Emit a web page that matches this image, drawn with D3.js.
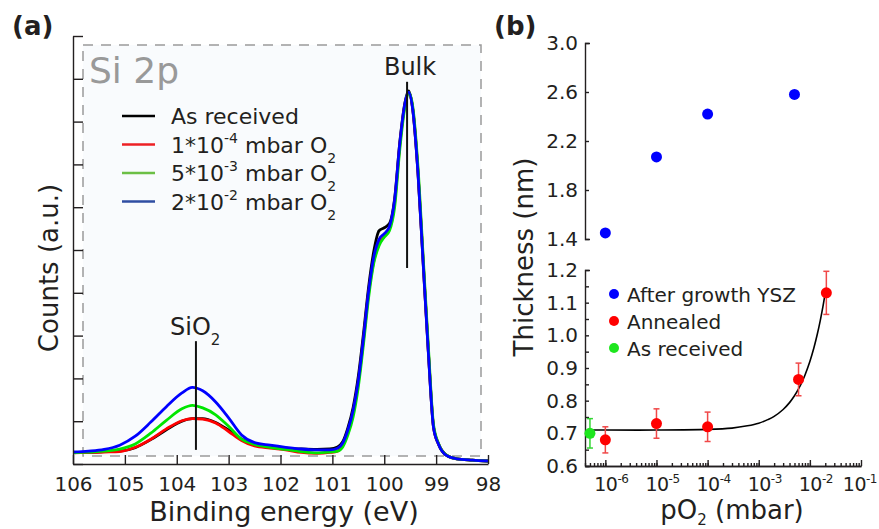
<!DOCTYPE html>
<html>
<head>
<meta charset="utf-8">
<title>Si 2p spectra and SiO2 thickness</title>
<script src="https://d3js.org/d3.v7.min.js"></script>
<style>
  body {margin: 0; background: #fff;}
  text {font-family: "DejaVu Sans", sans-serif; fill: #231f20;}
  .axis path, .axis line {stroke: #231f20; stroke-width: 1.4;}
  .axis text {font-family: "DejaVu Sans", sans-serif; font-size: 20px; fill: #231f20;}
</style>
</head>
<body>
<svg width="879" height="529"></svg>
<script>
// ---- panel (a) data : Si 2p spectra ----
const energy = [106.0, 105.7, 105.4, 105.1, 104.8, 104.5, 104.2, 103.9, 103.7, 103.5,
  103.25, 103.0, 102.75, 102.5, 102.2, 101.9, 101.6, 101.3, 101.05, 100.9,
  100.8, 100.7, 100.6, 100.5, 100.4, 100.3, 100.2, 100.1, 100.0, 99.9,
  99.8, 99.7, 99.6, 99.53, 99.45, 99.35, 99.25, 99.15, 99.05, 98.95,
  98.8, 98.6, 98.3, 98.0];
const asReceived = [0.27, 0.27, 0.29, 0.30, 0.38, 0.57, 0.80, 1.00, 1.06, 1.06,
  0.97, 0.79, 0.58, 0.46, 0.41, 0.37, 0.35, 0.34, 0.35, 0.40,
  0.52, 0.85, 1.32, 2.05, 3.05, 4.15, 4.98, 5.45, 5.52, 5.62,
  6.20, 7.52, 8.45, 8.72, 8.28, 6.80, 4.70, 2.62, 0.86, 0.45,
  0.20, 0.12, 0.09, 0.07];
const o2_1e4 = [0.26, 0.27, 0.28, 0.29, 0.39, 0.58, 0.82, 1.01, 1.06, 1.05,
  0.96, 0.76, 0.55, 0.42, 0.37, 0.33, 0.27, 0.25, 0.27, 0.30,
  0.44, 0.75, 1.20, 1.90, 2.90, 4.00, 4.75, 5.15, 5.32, 5.50,
  6.10, 7.45, 8.40, 8.68, 8.30, 6.85, 4.75, 2.65, 0.87, 0.46,
  0.21, 0.12, 0.09, 0.07];
const o2_5e3 = [0.26, 0.28, 0.30, 0.35, 0.47, 0.72, 1.02, 1.29, 1.37, 1.31,
  1.15, 0.88, 0.58, 0.46, 0.39, 0.34, 0.29, 0.26, 0.28, 0.30,
  0.40, 0.68, 1.10, 1.80, 2.80, 3.90, 4.70, 5.10, 5.30, 5.45,
  6.00, 7.35, 8.35, 8.68, 8.35, 6.95, 4.85, 2.75, 0.92, 0.47,
  0.21, 0.12, 0.09, 0.07];
const o2_2e2 = [0.28, 0.30, 0.34, 0.44, 0.65, 0.98, 1.34, 1.66, 1.79, 1.71,
  1.45, 1.08, 0.68, 0.50, 0.44, 0.39, 0.35, 0.33, 0.33, 0.37,
  0.49, 0.80, 1.25, 1.95, 2.95, 4.05, 4.85, 5.25, 5.38, 5.55,
  6.17, 7.50, 8.43, 8.69, 8.27, 6.80, 4.70, 2.60, 0.85, 0.45,
  0.20, 0.12, 0.09, 0.07];
const seriesLabels = ["As received", "1*10^-4 mbar O_2", "5*10^-3 mbar O_2", "2*10^-2 mbar O_2"];
const lineColors = ["#000000", "#ff0000", "#00e600", "#0000ff"];
const legendColors = ["#000000", "#ed2024", "#6cbf45", "#2f4ea2"];
const energyTicks = [106, 105, 104, 103, 102, 101, 100, 99, 98];
const countTicks = [0, 1, 2, 3, 4, 5, 6, 7, 8, 9, 10];

// ---- panel (b) data : oxide thickness vs pO2 ----
const pGrowth = [1e-6, 1e-5, 1e-4, 5e-3];
const tGrowth = [1.45, 2.07, 2.42, 2.58];
const pAnneal = [1e-6, 1e-5, 1e-4, 6e-3, 2.1e-2];
const tAnneal = [0.68, 0.73, 0.72, 0.865, 1.13];
const eAnneal = [0.04, 0.045, 0.045, 0.05, 0.066];
const pAsRec = [5e-7];
const tAsRec = [0.70];
const eAsRec = [0.045];
const pFit = [4.8e-7, 1e-6, 1e-5, 1e-4, 3e-4, 6e-4, 1e-3, 1.5e-3, 2e-3, 3e-3, 4e-3, 5e-3, 6e-3, 7e-3, 8e-3, 1e-2, 1.2e-2, 1.4e-2, 1.6e-2, 1.8e-2, 2.0e-2];
const tFit = [0.71, 0.71, 0.71, 0.712, 0.716, 0.723, 0.731, 0.742, 0.752, 0.773, 0.794, 0.815, 0.836, 0.857, 0.878, 0.92, 0.962, 1.004, 1.046, 1.088, 1.13];
const upperTicks = [1.4, 1.8, 2.2, 2.6, 3.0];
const lowerTicks = [0.6, 0.65, 0.7, 0.75, 0.8, 0.85, 0.9, 0.95, 1.0, 1.05, 1.1, 1.15, 1.2];
const decades = [-6, -5, -4, -3, -2, -1];
const legendB = ["After growth YSZ", "Annealed", "As received"];
const colorsB = ["#0000ff", "#ff0000", "#1ee61e"];

var svg = d3.select('svg');

// text with ^sup and _sub parts
function rich(sel, str, small, up, down) {
  var shift = 0;
  str.split(/(\^-?\d|_\d)/).forEach(function(p) {
    if (!p) return;
    var target = 0;
    var t = sel.append('tspan');
    if (p[0] == '^') { target = -up; p = p.slice(1); t.style('font-size', small); }
    else if (p[0] == '_') { target = down; p = p.slice(1); t.style('font-size', small); }
    t.attr('dy', target - shift).text(p);
    shift = target;
  });
}

// ================= panel (a) =================
var xs = d3.scaleLinear().domain([106, 98]).range([73, 488]);
var ys = d3.scaleLinear().domain([0, 10]).range([464, 36]);

// dashed frame
svg.append('rect')
  .attr('x', 83).attr('y', 45)
  .attr('width', 398).attr('height', 411)
  .style('fill', '#f9fbfd')
  .style('stroke', '#9a9a9a')
  .style('stroke-width', 1.5)
  .style('stroke-dasharray', '10,8');

var spectra = [asReceived, o2_1e4, o2_5e3, o2_2e2];
var line = d3.line()
  .x(function(d, i) { return xs(energy[i]); })
  .y(function(d) { return ys(d); })
  .curve(d3.curveMonotoneX);

svg.append('g').attr('id', 'spectra')
  .selectAll('path')
  .data(spectra)
  .enter()
  .append('path')
    .attr('d', line)
    .style('fill', 'none')
    .style('stroke', function(d, i) { return lineColors[i]; })
    .style('stroke-width', 2.8)
    .style('stroke-linejoin', 'round');

// axes
svg.append('g')
  .attr('class', 'axis')
  .attr('transform', 'translate(0,464)')
  .call(d3.axisBottom(xs).tickValues(energyTicks).tickSizeInner(-9).tickSizeOuter(0).tickPadding(13).tickFormat(d3.format('d')));

svg.append('g')
  .attr('class', 'axis')
  .attr('transform', 'translate(73,0)')
  .call(d3.axisLeft(ys).tickValues(countTicks).tickSizeInner(-10).tickSizeOuter(0).tickFormat(''));

// labels
svg.append('text')
  .attr('x', 284).attr('y', 521)
  .style('text-anchor', 'middle').style('font-size', '27px')
  .text('Binding energy (eV)');

svg.append('text')
  .attr('transform', 'translate(58,268) rotate(-90)')
  .style('text-anchor', 'middle').style('font-size', '26px')
  .text('Counts (a.u.)');

svg.append('text')
  .attr('x', 12).attr('y', 35)
  .style('font-size', '26px').style('font-weight', 'bold')
  .text('(a)');

svg.append('text')
  .attr('x', 89).attr('y', 83)
  .style('font-size', '36px').style('fill', '#999999')
  .text('Si 2p');

// peak markers
svg.append('line')
  .attr('x1', xs(99.56)).attr('x2', xs(99.56))
  .attr('y1', ys(8.93)).attr('y2', ys(4.58))
  .style('stroke', '#111').style('stroke-width', 2);
svg.append('text')
  .attr('x', xs(99.56) + 3).attr('y', 75)
  .style('text-anchor', 'middle').style('font-size', '24px')
  .text('Bulk');

svg.append('line')
  .attr('x1', xs(103.63)).attr('x2', xs(103.63))
  .attr('y1', ys(2.87)).attr('y2', ys(0.33))
  .style('stroke', '#111').style('stroke-width', 2);
var sio2 = svg.append('text')
  .attr('x', 170).attr('y', 335)
  .style('font-size', '24px');
rich(sio2, 'SiO_2', '15px', 10, 10);

// legend
var legA = svg.append('g').attr('id', 'legendA');
seriesLabels.forEach(function(s, i) {
  var y = 116 + i * 28.5;
  legA.append('line')
    .attr('x1', 122).attr('x2', 155)
    .attr('y1', y).attr('y2', y)
    .style('stroke', legendColors[i]).style('stroke-width', 2.5);
  var t = legA.append('text')
    .attr('x', 171).attr('y', y + 8)
    .style('font-size', '22px');
  rich(t, s, '14px', 10, 10);
});

// ================= panel (b) =================
var xb = d3.scaleLog().domain([4e-7, 0.1]).range([585, 861]);
var yUp = d3.scaleLinear().domain([1.4, 3.0]).range([239, 43]);
var yLo = d3.scaleLinear().domain([0.6, 1.2]).range([466, 270]);

// upper y axis
svg.append('g')
  .attr('class', 'axis')
  .attr('transform', 'translate(585,0)')
  .call(d3.axisLeft(yUp).tickValues(upperTicks).tickSizeInner(-4).tickSizeOuter(-5).tickPadding(7).tickFormat(d3.format('.1f')));

// lower y axis
svg.append('g')
  .attr('class', 'axis')
  .attr('transform', 'translate(585,0)')
  .call(d3.axisLeft(yLo).tickValues(lowerTicks).tickSizeInner(-4).tickSizeOuter(-5).tickPadding(7)
    .tickFormat(function(d) { return Math.round(d * 100) % 10 == 0 ? d3.format('.1f')(d) : ''; }));

// x log axis, minor and major ticks
var minorTicks = [];
decades.forEach(function(k) {
  for (var m = 1; m < 10; m++) {
    var v = m * Math.pow(10, k - 1);
    if (v >= 4e-7 && v <= 0.1) minorTicks.push(v);
  }
});
svg.append('g')
  .attr('class', 'axis')
  .attr('transform', 'translate(0,466)')
  .call(d3.axisBottom(xb).tickValues(minorTicks).tickSizeInner(-3).tickSizeOuter(0).tickFormat(''));
svg.append('g')
  .attr('class', 'axis')
  .attr('transform', 'translate(0,466)')
  .call(d3.axisBottom(xb).tickValues(decades.map(function(k) { return Math.pow(10, k); })).tickSizeInner(-6).tickSizeOuter(0).tickFormat(''));

svg.append('g').attr('id', 'xlabelsB')
  .selectAll('text')
  .data(decades)
  .enter()
  .append('text')
    .attr('x', function(k) { return xb(Math.pow(10, k)) + 6; })
    .attr('y', 491)
    .style('text-anchor', 'middle')
    .style('font-size', '19px')
    .style('letter-spacing', '-0.5px')
    .each(function(k) { rich(d3.select(this), '10^' + k, '12px', 8, 8); })
    .each(function() {
      // keep the last label inside the picture
      var b = this.getBBox();
      if (b.x + b.width > 877) d3.select(this).attr('x', +d3.select(this).attr('x') - (b.x + b.width - 877));
    });

// fit curve
var fitLine = d3.line()
  .x(function(d, i) { return xb(pFit[i]); })
  .y(function(d) { return yLo(d); })
  .curve(d3.curveCatmullRom.alpha(0.5));
svg.append('path')
  .datum(tFit)
  .attr('d', fitLine)
  .style('fill', 'none')
  .style('stroke', '#000')
  .style('stroke-width', 1.6);

// error bars
function errorBars(ps, ts, es, color) {
  var g = svg.append('g');
  ps.forEach(function(p, i) {
    var x = xb(p);
    var y1 = yLo(ts[i] - es[i]), y2 = yLo(ts[i] + es[i]);
    g.append('line').attr('x1', x).attr('x2', x).attr('y1', y1).attr('y2', y2);
    g.append('line').attr('x1', x - 3).attr('x2', x + 3).attr('y1', y1).attr('y2', y1);
    g.append('line').attr('x1', x - 3).attr('x2', x + 3).attr('y1', y2).attr('y2', y2);
  });
  g.selectAll('line').style('stroke', color).style('stroke-width', 1.5);
}
errorBars(pAnneal, tAnneal, eAnneal, '#f04848');
errorBars(pAsRec, tAsRec, eAsRec, '#33d633');

// points
svg.append('g').selectAll('circle')
  .data(tGrowth).enter().append('circle')
    .attr('cx', function(d, i) { return xb(pGrowth[i]); })
    .attr('cy', function(d) { return yUp(d); })
    .attr('r', 5.5)
    .style('fill', colorsB[0]);
svg.append('g').selectAll('circle')
  .data(tAnneal).enter().append('circle')
    .attr('cx', function(d, i) { return xb(pAnneal[i]); })
    .attr('cy', function(d) { return yLo(d); })
    .attr('r', 5.5)
    .style('fill', colorsB[1]);
svg.append('g').selectAll('circle')
  .data(tAsRec).enter().append('circle')
    .attr('cx', function(d, i) { return xb(pAsRec[i]); })
    .attr('cy', function(d) { return yLo(d); })
    .attr('r', 5.5)
    .style('fill', colorsB[2]);

// legend (b)
legendB.forEach(function(s, i) {
  var y = 294 + i * 27;
  svg.append('circle').attr('cx', 614).attr('cy', y).attr('r', 5).style('fill', colorsB[i]);
  svg.append('text').attr('x', 627).attr('y', y + 8).style('font-size', '20px').text(s);
});

// labels (b)
svg.append('text')
  .attr('x', 494).attr('y', 35)
  .style('font-size', '26px').style('font-weight', 'bold')
  .text('(b)');

svg.append('text')
  .attr('transform', 'translate(533,257) rotate(-90)')
  .style('text-anchor', 'middle').style('font-size', '26px')
  .text('Thickness (nm)');

var px = svg.append('text')
  .attr('x', 732).attr('y', 519)
  .style('text-anchor', 'middle').style('font-size', '26px');
rich(px, 'pO_2 (mbar)', '15px', 7, 6);
</script>
</body>
</html>
